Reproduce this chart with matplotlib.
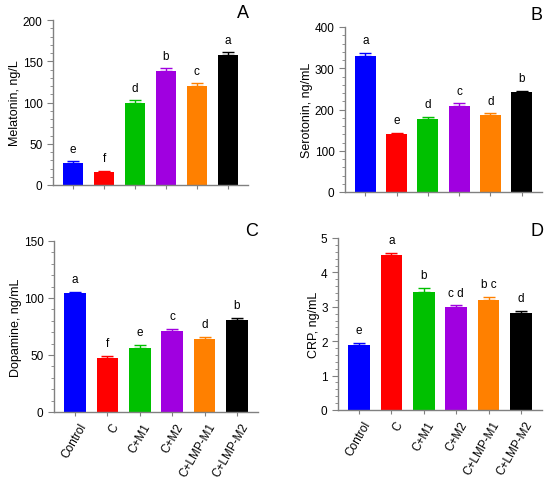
import matplotlib
matplotlib.use("Agg")
import matplotlib.pyplot as plt
from matplotlib.ticker import AutoMinorLocator, MultipleLocator
from matplotlib.transforms import ScaledTranslation

plt.rcParams["font.family"] = ["Liberation Sans", "DejaVu Sans"]

groups = ["Control", "C", "C+M1", "C+M2", "C+LMP-M1", "C+LMP-M2"]
colors = ["#0000ff", "#ff0000", "#00c000", "#a000e0", "#ff8000", "#000000"]

melatonin = [27, 15.5, 100, 138, 120, 158]
melatonin_err = [1.5, 1.5, 2.5, 3.5, 3.5, 3.0]
melatonin_sig = ["e", "f", "d", "b", "c", "a"]

serotonin = [330, 140, 178, 209, 187, 242]
serotonin_err = [7, 4, 4, 6, 4, 4]
serotonin_sig = ["a", "e", "d", "c", "d", "b"]

dopamine = [104, 47, 56.5, 71, 64, 81]
dopamine_err = [1.5, 2, 2, 2, 2, 1.5]
dopamine_sig = ["a", "f", "e", "c", "d", "b"]

crp = [1.9, 4.5, 3.43, 2.98, 3.19, 2.83]
crp_err = [0.06, 0.07, 0.12, 0.06, 0.10, 0.06]
crp_sig = ["e", "a", "b", "c d", "b c", "d"]

W, H = 550, 481
fig = plt.figure(figsize=(W / 100, H / 100), dpi=100)


def px_axes(x0, x1, ytop, ybot):
    return fig.add_axes([x0 / W, 1 - ybot / H, (x1 - x0) / W, (ybot - ytop) / H])


panels = [
    # (pixel box, values, errs, letters, ymax, major step, ylabel, tag, tag pos px, x labels)
    ((53, 248, 21, 186), melatonin, melatonin_err, melatonin_sig, 200, 50,
     "Melatonin, ng/L", "A", (243, 14), False),
    ((345, 542, 28, 193), serotonin, serotonin_err, serotonin_sig, 400, 100,
     "Serotonin, ng/mL", "B", (537, 15), False),
    ((54, 258, 242, 413), dopamine, dopamine_err, dopamine_sig, 150, 50,
     "Dopamine, ng/mL", "C", (252, 232), True),
    ((338, 542, 239, 411), crp, crp_err, crp_sig, 5, 1,
     "CRP, ng/mL", "D", (537, 232), True),
]

grey = "#808080"
for box, vals, errs, sig, ymax, major, ylabel, tag, tagpos, xlab in panels:
    ax = px_axes(*box)
    x = range(len(groups))
    ax.bar(x, vals, width=0.67, color=colors, zorder=2)
    for xi, v, e, c in zip(x, vals, errs, colors):
        ax.errorbar(xi, v, yerr=[[0], [e]], fmt="none", ecolor=c, elinewidth=1,
                    capsize=4, capthick=1, zorder=1)
        ax.text(xi, v + e + ymax * 0.04, sig[xi], ha="center", va="bottom", fontsize=8.5)
    ax.set_xlim(-0.65, len(groups) - 0.35)
    ax.set_ylim(0, ymax)
    ax.yaxis.set_major_locator(MultipleLocator(major))
    ax.yaxis.set_minor_locator(AutoMinorLocator(5))
    ax.set_ylabel(ylabel, fontsize=9, labelpad=1)
    for s in ("top", "right"):
        ax.spines[s].set_visible(False)
    for s in ("left", "bottom"):
        ax.spines[s].set_color(grey)
        ax.spines[s].set_linewidth(1)
    ax.tick_params(axis="both", which="both", colors=grey, labelcolor="black", labelsize=8.5)
    ax.tick_params(axis="y", which="major", length=4)
    ax.tick_params(axis="y", which="minor", length=2.5)
    ax.tick_params(axis="x", length=3)
    ax.set_xticks(list(x))
    if xlab:
        ax.set_xticklabels(groups, rotation=60, ha="right", va="center",
                           rotation_mode="anchor", fontsize=8.5)
        shift = ScaledTranslation(6 / 72, -2 / 72, fig.dpi_scale_trans)
        for lab in ax.get_xticklabels():
            lab.set_transform(lab.get_transform() + shift)
    else:
        ax.set_xticklabels([])
    fig.text(tagpos[0] / W, 1 - tagpos[1] / H, tag, ha="center", va="center", fontsize=13)

fig.savefig("out.png", dpi=100)
